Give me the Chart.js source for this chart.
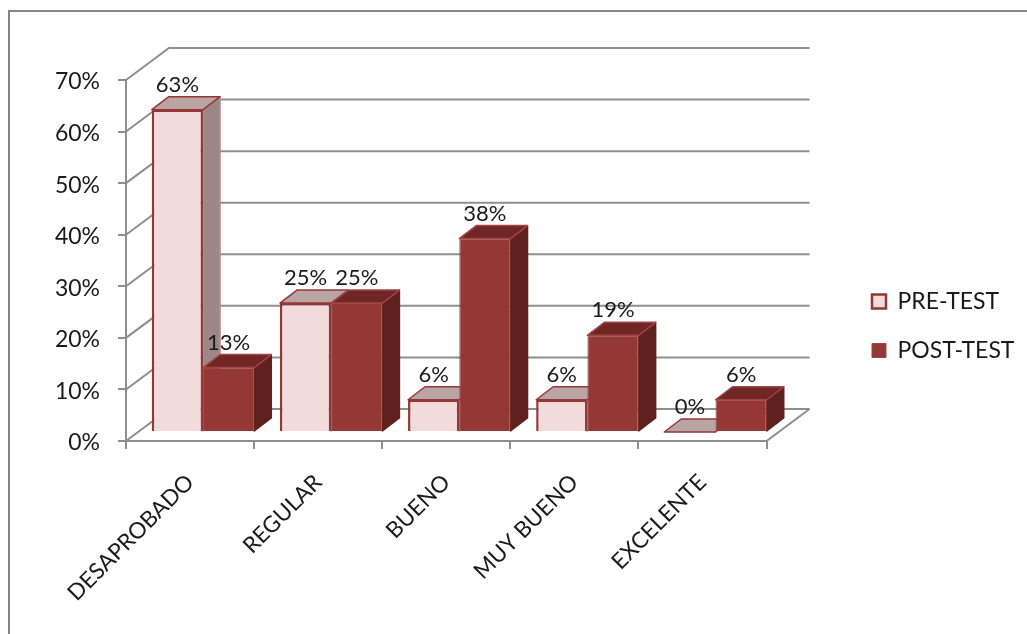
<!DOCTYPE html>
<html><head><meta charset="utf-8">
<style>html,body{margin:0;padding:0;background:#fff}canvas{display:block}</style>
<script src="https://cdn.jsdelivr.net/npm/chart.js@4"></script>
</head><body>
<div style="width:1027px;height:634px"><canvas id="c" width="1027" height="634"></canvas></div>
<script>
const categories = ["DESAPROBADO","REGULAR","BUENO","MUY BUENO","EXCELENTE"];
const preTest = [62.5,25,6.25,6.25,0];
const postTest = [12.5,25,37.5,18.75,6.25];
const yTicks = [0,10,20,30,40,50,60,70];
const WALL = {dx:43, dy:-32};
const SHIFT = {dx:13, dy:-9};
const DEPTH = {dx:17, dy:-13};
const GRID = '#8e8e8e';
const FONT = 'Lato';

const shade = [
  {front:'#f2dcdb', top:'#b9a5a4', side:'#9a8786', line:'#953735'},
  {front:'#953735', top:'#6f2624', side:'#5f2120', line:'#a24544'}
];
function poly(ctx,pts,fill,stroke,w){
  ctx.beginPath();pts.forEach((p,i)=>i?ctx.lineTo(p[0],p[1]):ctx.moveTo(p[0],p[1]));ctx.closePath();
  if(fill){ctx.fillStyle=fill;ctx.fill();}
  if(stroke){ctx.strokeStyle=stroke;ctx.lineWidth=w;ctx.lineJoin='round';ctx.stroke();}
}
const frame3d = {
  id:'frame3d',
  beforeDraw(chart){
    const c=chart.ctx;c.save();c.fillStyle='#fff';c.fillRect(0,0,chart.width,chart.height);
    c.strokeStyle='#868686';c.lineWidth=2;c.beginPath();
    c.moveTo(9,chart.height);c.lineTo(9,11);c.lineTo(chart.width,11);c.stroke();c.restore();
  },
  afterLayout(chart){
    const l=chart.legend, d=846-l.left;
    l.left+=d;l.right+=d;
    l.top-=31;l.bottom-=31;
  },
  beforeDatasetsDraw(chart){
    const c=chart.ctx,x=chart.scales.x,y=chart.scales.y;
    const L=x.left,R=x.right;
    c.save();
    c.lineCap='butt';
    c.strokeStyle=GRID;c.lineWidth=2;
    yTicks.forEach(v=>{
      const p=y.getPixelForValue(v);
      c.beginPath();c.moveTo(L,p);c.lineTo(L+WALL.dx,p+WALL.dy);c.lineTo(R+WALL.dx,p+WALL.dy);c.stroke();
    });
    const b=y.getPixelForValue(0);
    c.beginPath();c.moveTo(R,b);c.lineTo(R+WALL.dx,b+WALL.dy);c.stroke();
    // side and top faces, back to front
    [0,1,2,3,4].forEach(i=>{
      chart.data.datasets.forEach((ds,k)=>{
        const el=chart.getDatasetMeta(k).data[i],s=shade[k];
        const half=el.width/2,xl=el.x-half+SHIFT.dx,xr=el.x+half+SHIFT.dx;
        const t=el.y+SHIFT.dy,bt=el.base+SHIFT.dy;
        poly(c,[[xr,t],[xr+DEPTH.dx,t+DEPTH.dy],[xr+DEPTH.dx,bt+DEPTH.dy],[xr,bt]],s.side,k?s.side:'#c08a89',1.5);
        poly(c,[[xl,t],[xl+DEPTH.dx,t+DEPTH.dy],[xr+DEPTH.dx,t+DEPTH.dy],[xr,t]],s.top,s.line,1.5);
      });
    });
    c.restore();
    c.save();c.translate(SHIFT.dx,SHIFT.dy);
  },
  afterDatasetsDraw(chart){
    const c=chart.ctx;c.restore();
    c.save();c.fillStyle='#1a1a1a';c.font='22px '+FONT;c.textAlign='center';c.textBaseline='middle';
    chart.data.datasets.forEach((ds,k)=>{
      chart.getDatasetMeta(k).data.forEach((el,i)=>{
        c.fillText(Math.round(ds.data[i])+'%',el.x+SHIFT.dx,el.y+SHIFT.dy-25);
      });
    });
    c.restore();
  }
};
new Chart(document.getElementById('c'),{
  type:'bar',
  data:{labels:categories,datasets:[
    {label:'PRE-TEST',data:preTest,backgroundColor:shade[0].front,borderColor:shade[0].line,borderWidth:2.5,categoryPercentage:.8,barPercentage:1},
    {label:'POST-TEST',data:postTest,backgroundColor:shade[1].front,borderColor:shade[1].line,borderWidth:1,categoryPercentage:.8,barPercentage:1}
  ]},
  options:{
    responsive:false,animation:false,devicePixelRatio:1,
    layout:{padding:{top:80,left:0,right:82,bottom:0}},
    plugins:{
      tooltip:{enabled:false},
      legend:{position:'right',align:'center',
        labels:{boxWidth:14,boxHeight:14,padding:26,color:'#1a1a1a',font:{family:FONT,size:23}}}
    },
    scales:{
      x:{offset:true,
        afterFit(s){s.height=193;},
        grid:{offset:true,drawOnChartArea:false,drawTicks:true,tickLength:8,color:GRID,lineWidth:2},
        border:{display:true,color:GRID,width:2},
        ticks:{minRotation:45,maxRotation:45,autoSkip:false,padding:20,color:'#1a1a1a',font:{family:FONT,size:22.5}}},
      y:{min:0,max:70,
        afterFit(s){s.width=126;},
        grid:{drawOnChartArea:false,drawTicks:true,tickLength:8,color:GRID,lineWidth:2},
        border:{display:true,color:GRID,width:2},
        ticks:{stepSize:10,padding:18,labelOffset:2,color:'#1a1a1a',font:{family:FONT,size:23},callback:v=>v+'%'}}
    }
  },
  plugins:[frame3d]
});
</script></body></html>
